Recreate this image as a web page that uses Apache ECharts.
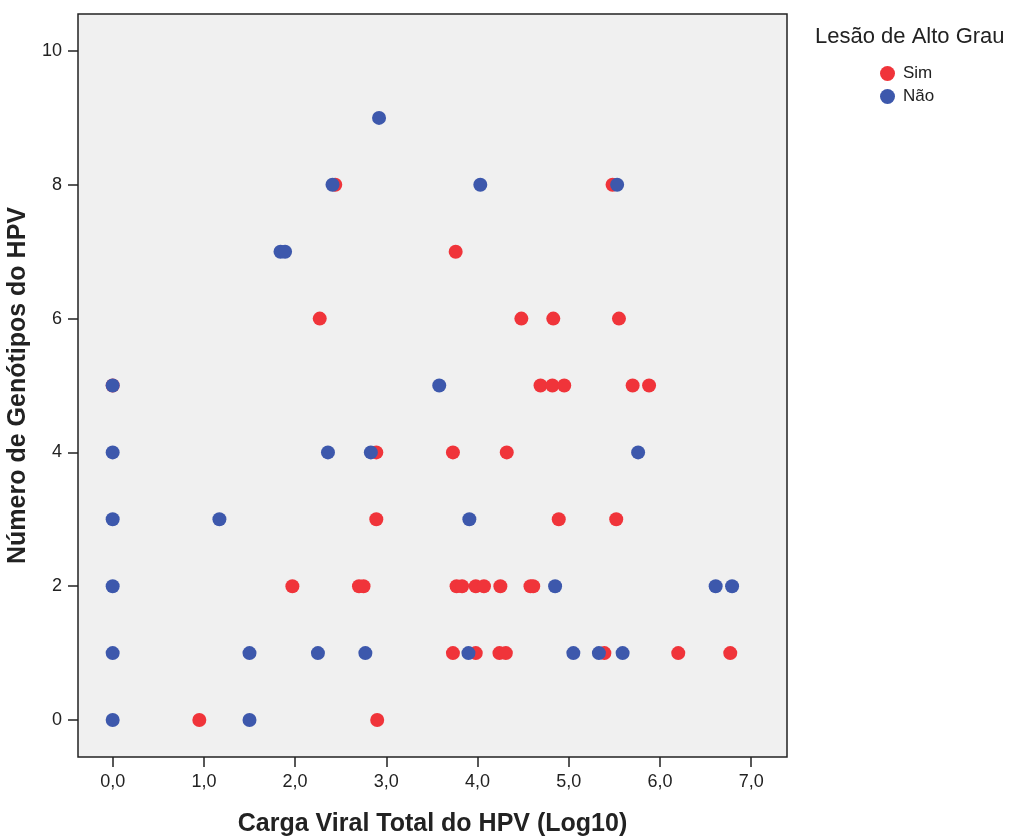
<!DOCTYPE html>
<html>
<head>
<meta charset="utf-8">
<script src="https://cdn.jsdelivr.net/npm/echarts@6/dist/echarts.min.js"></script>
<style>
  html, body { margin: 0; padding: 0; background: #fff; }
  #chart { width: 1014px; height: 836px; }
</style>
</head>
<body>
<div id="chart"></div>
<script>
// Lesão de Alto Grau = Sim (vermelho)
var simX = [0, 0.95, 2.90,
    3.73, 3.98, 4.24, 4.31, 5.39, 6.20, 6.77,
    1.97, 2.70, 2.75, 3.77, 3.83, 3.98, 4.07, 4.25, 4.58, 4.61,
    2.89, 4.89, 5.52,
    2.89, 3.73, 4.32,
    4.69, 4.82, 4.95, 5.70, 5.88,
    2.27, 4.48, 4.83, 5.55,
    3.76,
    2.44, 5.48]
var simY = [5, 0, 0,
    1, 1, 1, 1, 1, 1, 1,
    2, 2, 2, 2, 2, 2, 2, 2, 2, 2,
    3, 3, 3,
    4, 4, 4,
    5, 5, 5, 5, 5,
    6, 6, 6, 6,
    7,
    8, 8]
// Lesão de Alto Grau = Não (azul)
var naoX = [0, 1.50,
    0, 1.50, 2.25, 2.77, 3.90, 5.05, 5.33, 5.59,
    0, 4.85, 6.61, 6.79,
    0, 1.17, 3.91,
    0, 2.36, 2.83, 5.76,
    0, 3.58,
    1.84, 1.89,
    2.41, 4.03, 5.53,
    2.92]
var naoY = [0, 0,
    1, 1, 1, 1, 1, 1, 1, 1,
    2, 2, 2, 2,
    3, 3, 3,
    4, 4, 4, 4,
    5, 5,
    7, 7,
    8, 8, 8,
    9]

var xTicks = [0, 1, 2, 3, 4, 5, 6, 7]
var yTicks = [0, 2, 4, 6, 8, 10]

function pares(xs, ys) {
    return xs.map(function (x, i) { return [x, ys[i]] })
}

var fonte = '"Liberation Sans", Arial, sans-serif'
var escuro = '#222'

var option = {
    animation: false,
    backgroundColor: '#fff',
    textStyle: { fontFamily: fonte },
    title: {
        text: 'Lesão de Alto Grau',
        left: 815,
        top: 26,
        padding: 0,
        textStyle: { fontSize: 22, fontWeight: 'normal', color: escuro, fontFamily: fonte }
    },
    legend: {
        orient: 'vertical',
        left: 880,
        top: 65,
        padding: 0,
        itemWidth: 21,
        itemHeight: 15,
        itemGap: 6,
        icon: 'circle',
        textStyle: { fontSize: 17, color: escuro, fontFamily: fonte },
        data: ['Sim', 'Não']
    },
    grid: {
        left: 78,
        top: 14,
        width: 709,
        height: 743,
        outerBoundsMode: 'none',
        containLabel: false,
        show: true,
        backgroundColor: '#f0f0f0',
        borderColor: escuro,
        borderWidth: 1.5
    },
    xAxis: {
        type: 'value',
        min: -0.380,
        max: 7.392,
        name: 'Carga Viral Total do HPV (Log10)',
        nameLocation: 'middle',
        nameGap: 55,
        nameTextStyle: { fontSize: 25, fontWeight: 'bold', color: escuro, fontFamily: fonte },
        axisLine: { show: false, onZero: false },
        splitLine: { show: false },
        axisTick: { show: true, length: 10, customValues: xTicks, lineStyle: { color: escuro, width: 1.5 } },
        axisLabel: {
            fontSize: 18, color: escuro, margin: 16, customValues: xTicks,
            formatter: function (v) { return v.toFixed(1).replace('.', ',') }
        }
    },
    yAxis: {
        type: 'value',
        min: -0.553,
        max: 10.553,
        name: 'Número de Genótipos do HPV',
        nameLocation: 'middle',
        nameGap: 38,
        nameTextStyle: { fontSize: 25, fontWeight: 'bold', color: escuro, fontFamily: fonte },
        axisLine: { show: false, onZero: false },
        splitLine: { show: false },
        axisTick: { show: true, length: 10, customValues: yTicks, lineStyle: { color: escuro, width: 1.5 } },
        axisLabel: { fontSize: 18, color: escuro, margin: 16, customValues: yTicks }
    },
    series: [{
        name: 'Sim',
        type: 'scatter',
        symbolSize: 14,
        itemStyle: { color: '#f0343a', opacity: 1 },
        data: pares(simX, simY)
    }, {
        name: 'Não',
        type: 'scatter',
        symbolSize: 14,
        itemStyle: { color: '#3d58ac', opacity: 1 },
        data: pares(naoX, naoY)
    }]
}

var myChart = echarts.init(document.getElementById('chart'))
myChart.setOption(option)
</script>
</body>
</html>
